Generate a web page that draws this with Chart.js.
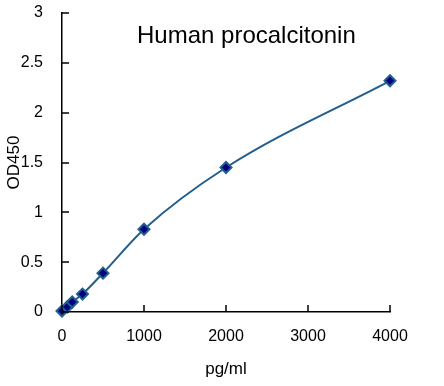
<!DOCTYPE html>
<html>
<head>
<meta charset="utf-8">
<script src="https://cdn.jsdelivr.net/npm/chart.js@4/dist/chart.umd.min.js"></script>
<style>
  body { margin: 0; background: #fff; }
  #wrap { width: 444px; height: 386px; }
</style>
</head>
<body>
<div id="wrap"><canvas id="chart"></canvas></div>
<script>
const concentrations = [0, 62.5, 125, 250, 500, 1000, 2000, 4000];
const odValues = [0.01, 0.05, 0.1, 0.18, 0.39, 0.83, 1.45, 2.32];
const chartTitle = 'Human procalcitonin';
const xTitle = 'pg/ml';
const yTitle = 'OD450';

const points = concentrations.map((c, i) => ({ x: c, y: odValues[i] }));
const font = '"Liberation Sans", Arial, sans-serif';

// inward tick marks + title inside the plot
const extras = {
    id: 'extras',
    afterDraw(chart) {
        const ctx = chart.ctx;
        const xs = chart.scales.x, ys = chart.scales.y;
        const area = chart.chartArea;
        ctx.save();
        ctx.strokeStyle = '#000';
        ctx.lineWidth = 1.5;
        ctx.beginPath();
        xs.ticks.forEach(t => {
            const px = Math.round(xs.getPixelForValue(t.value));
            ctx.moveTo(px, area.bottom);
            ctx.lineTo(px, area.bottom - 7);
        });
        ys.ticks.forEach(t => {
            const py = Math.round(ys.getPixelForValue(t.value));
            ctx.moveTo(area.left, py);
            ctx.lineTo(area.left + 7, py);
        });
        ctx.stroke();
        ctx.fillStyle = '#000';
        ctx.font = '24px ' + font;
        ctx.textAlign = 'left';
        ctx.textBaseline = 'middle';
        ctx.fillText(chartTitle, 137, 36);
        ctx.restore();
    }
};

new Chart(document.getElementById('chart'), {
    type: 'scatter',
    data: {
        datasets: [{
            data: points,
            showLine: true,
            cubicInterpolationMode: 'monotone',
            borderColor: '#215f8f',
            borderWidth: 2,
            pointStyle: 'rectRot',
            pointRadius: 5.5,
            pointBorderWidth: 2,
            pointBackgroundColor: '#000080',
            pointBorderColor: '#215f8f',
            clip: false
        }]
    },
    options: {
        responsive: true,
        maintainAspectRatio: false,
        animation: false,
        layout: { padding: { left: 0, top: 13, right: 54, bottom: 0 } },
        plugins: { legend: { display: false }, tooltip: { enabled: false } },
        scales: {
            x: {
                type: 'linear',
                min: 0, max: 4000,
                ticks: {
                    stepSize: 1000,
                    color: '#000',
                    padding: 7,
                    font: { family: font, size: 16 },
                    callback: v => String(v)
                },
                grid: { display: false },
                border: { display: true, color: '#000', width: 1.5 },
                title: {
                    display: true, text: xTitle, color: '#000',
                    font: { family: font, size: 17 },
                    padding: { top: 0, bottom: 6 }
                },
                afterFit: s => {
                    s.height = 74;
                    s.paddingLeft = 0;
                    s.paddingRight = 0;
                }
            },
            y: {
                min: 0, max: 3,
                ticks: {
                    stepSize: 0.5,
                    color: '#000',
                    padding: 11,
                    font: { family: font, size: 16 },
                    callback: v => String(v)
                },
                grid: { display: false },
                border: { display: true, color: '#000', width: 1.5 },
                title: {
                    display: true, text: yTitle, color: '#000',
                    font: { family: font, size: 17 },
                    padding: { top: 4, bottom: 0 }
                },
                afterFit: s => {
                    s.width = 62;
                    s.paddingTop = 0;
                    s.paddingBottom = 0;
                }
            }
        }
    },
    plugins: [extras]
});
</script>
</body>
</html>
